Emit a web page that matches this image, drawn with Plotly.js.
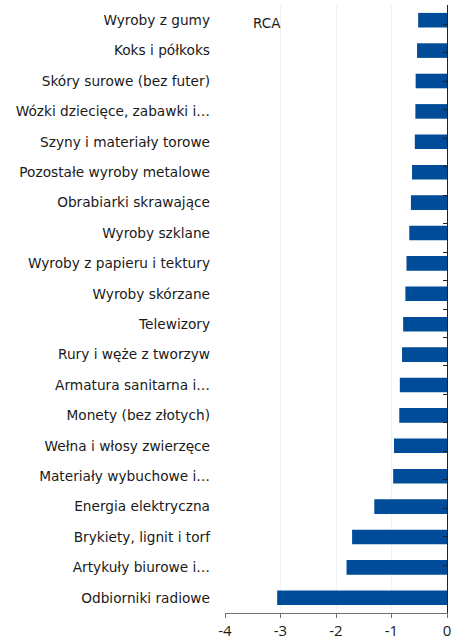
<!DOCTYPE html>
<html>
<head>
<meta charset="utf-8">
<script src="https://cdn.plot.ly/plotly-3.0.1.min.js"></script>
<style>html,body{margin:0;padding:0;background:#fff}#chart{width:464px;height:641px}</style>
</head>
<body>
<div id="chart"></div>
<script>
const categories = [
  "Wyroby z gumy",
  "Koks i półkoks",
  "Skóry surowe (bez futer)",
  "Wózki dziecięce, zabawki i…",
  "Szyny i materiały torowe",
  "Pozostałe wyroby metalowe",
  "Obrabiarki skrawające",
  "Wyroby szklane",
  "Wyroby z papieru i tektury",
  "Wyroby skórzane",
  "Telewizory",
  "Rury i węże z tworzyw",
  "Armatura sanitarna i…",
  "Monety (bez złotych)",
  "Wełna i włosy zwierzęce",
  "Materiały wybuchowe i…",
  "Energia elektryczna",
  "Brykiety, lignit i torf",
  "Artykuły biurowe i…",
  "Odbiorniki radiowe"
];
const rcaValues = [-0.52, -0.54, -0.565, -0.57, -0.58, -0.63, -0.65, -0.68, -0.73, -0.75,
                   -0.79, -0.81, -0.85, -0.86, -0.955, -0.97, -1.31, -1.71, -1.81, -3.06];
const xTickVals = [-4, -3, -2, -1, 0];
const xTickText = ["-4", "-3", "-2", "-1", "0"];
const seriesName = "RCA";

const labelFont = "'DejaVu Sans', sans-serif";
const numFont = "'Open Sans', sans-serif";

const data = [
  {
    type: "bar", orientation: "h",
    x: rcaValues, y: categories,
    marker: {color: "#004c98"},
    hoverinfo: "x+y",
    xaxis: "x", yaxis: "y"
  },
  {
    type: "scatter", mode: "markers",
    x: rcaValues, y: categories,
    marker: {opacity: 0, size: 1},
    hoverinfo: "skip", showlegend: false,
    xaxis: "x", yaxis: "y2"
  }
];

const layout = {
  width: 464, height: 641,
  margin: {l: 225, r: 17, t: 5, b: 28},
  paper_bgcolor: "#fff", plot_bgcolor: "#fff",
  showlegend: false,
  bargap: 0.52,
  font: {family: labelFont, size: 13, color: "#1a1a1a"},
  xaxis: {
    range: [-4, 0],
    tickvals: xTickVals, ticktext: xTickText,
    showgrid: true, gridcolor: "#f2f2f2", gridwidth: 1,
    zeroline: false,
    showline: true, linecolor: "#707070", linewidth: 1,
    ticks: "outside", ticklen: 4, tickcolor: "#707070",
    ticklabelstandoff: 0,
    tickfont: {family: numFont, size: 15, color: "#1a1a1a"}
  },
  yaxis: {
    type: "category",
    autorange: "reversed",
    showgrid: false, zeroline: false, showline: false,
    ticks: "", ticklabelstandoff: 14,
    tickfont: {family: labelFont, size: 13.7, color: "#1a1a1a"}
  },
  yaxis2: {
    type: "category",
    overlaying: "y", side: "right",
    autorange: "reversed",
    range: [19.5, -0.5],
    showgrid: false, zeroline: false,
    showline: true, linecolor: "#222", linewidth: 1,
    ticks: "inside", ticklen: 4, tickcolor: "#222",
    tickson: "boundaries",
    showticklabels: false
  },
  annotations: [{
    text: seriesName, xref: "paper", yref: "paper",
    x: 0.19, y: 0.971, xanchor: "center", yanchor: "middle",
    showarrow: false, font: {family: labelFont, size: 13.5, color: "#1a1a1a"}
  }]
};

Plotly.newPlot("chart", data, layout, {displayModeBar: false, staticPlot: true});
</script>
</body>
</html>
